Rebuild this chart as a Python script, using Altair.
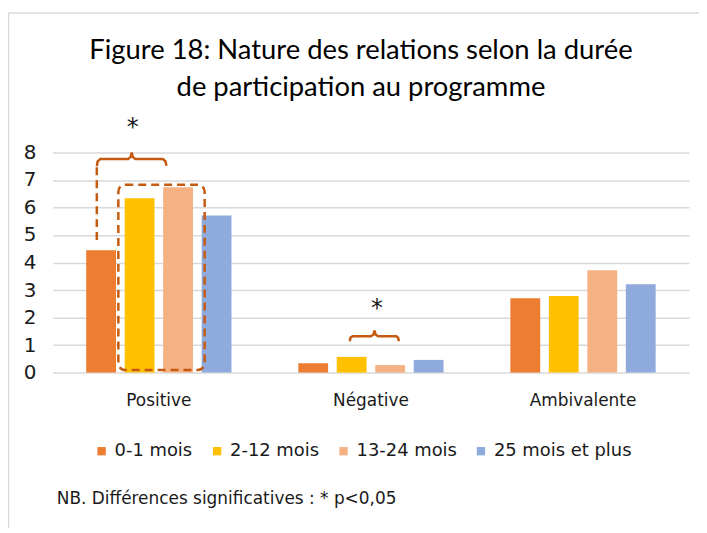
import altair as alt
import pandas as pd

# ---------------- data ----------------
categories = ["Positive", "Négative", "Ambivalente"]
series = ["0-1 mois", "2-12 mois", "13-24 mois", "25 mois et plus"]
colors = ["#ED7D31", "#FFC000", "#F4B183", "#8FAADC"]

vals_0_1 = [4.45, 0.34, 2.70]
vals_2_12 = [6.34, 0.57, 2.78]
vals_13_24 = [6.74, 0.27, 3.72]
vals_25_plus = [5.71, 0.46, 3.21]

title_lines = ["Figure 18: Nature des relations selon la durée",
               "de participation au programme"]
note_text = "NB. Différences significatives : * p<0,05"

# annotation geometry, in data units (x: category units 0..3, y: value units)
brace1_x = [0.2075, 0.2115, 0.224, 0.355, 0.367, 0.372, 0.377, 0.389, 0.519, 0.531, 0.536]
brace1_y = [7.50, 7.68, 7.76, 7.76, 7.84, 8.00, 7.84, 7.76, 7.76, 7.68, 7.52]
brace2_x = [1.400, 1.404, 1.414, 1.500, 1.512, 1.517, 1.522, 1.534, 1.620, 1.628, 1.632]
brace2_y = [1.14, 1.27, 1.32, 1.32, 1.38, 1.53, 1.38, 1.32, 1.32, 1.27, 1.14]
stem_x = [0.2075]
stem_y = [7.46]
stem_y2 = [4.69]
box_x = [0.309]
box_x2 = [0.716]
box_y = [0.09]
box_y2 = [6.83]
star_x = [0.377, 1.529]
star_y = [8.90, 2.31]

# ---------------- tables ----------------
rows = []
for s, vals in zip(series, [vals_0_1, vals_2_12, vals_13_24, vals_25_plus]):
    for c, v in zip(categories, vals):
        rows.append({"cat": c, "series": s, "value": v})
df = pd.DataFrame(rows)

brace_rows = []
for bid, (bx, by) in enumerate([(brace1_x, brace1_y), (brace2_x, brace2_y)]):
    for i, (xx, yy) in enumerate(zip(bx, by)):
        brace_rows.append({"id": bid, "i": i, "x": xx, "y": yy})
df_brace = pd.DataFrame(brace_rows)
df_stem = pd.DataFrame({"x": stem_x, "y": stem_y, "y2": stem_y2})
df_box = pd.DataFrame({"x": box_x, "x2": box_x2, "y": box_y, "y2": box_y2})
df_star = pd.DataFrame({"x": star_x, "y": star_y, "t": ["*"] * len(star_x)})

W, H = 639, 221
FONT = "DejaVu Sans"
ANN = "#C55A11"

yscale = alt.Scale(domain=[0, 8], nice=False, zero=True)
yaxis = alt.Axis(values=list(range(0, 9)), title=None, grid=True, gridColor="#D9D9D9",
                 gridWidth=1.5, ticks=False, domain=False, labelFontSize=20,
                 labelFont=FONT, labelColor="#1a1a1a", labelPadding=17)
xq = alt.Scale(domain=[0, 3], nice=False, zero=False)

bars = alt.Chart(df).mark_bar().encode(
    x=alt.X("cat:N", sort=categories,
            scale=alt.Scale(paddingInner=0.315, paddingOuter=0.1575),
            axis=alt.Axis(title=None, ticks=False, domain=False, labelAngle=0,
                          labelFontSize=17, labelFont=FONT, labelColor="#1a1a1a",
                          labelPadding=20, grid=False)),
    xOffset=alt.XOffset("series:N", sort=series,
                        scale=alt.Scale(paddingInner=0.225, paddingOuter=0)),
    y=alt.Y("value:Q", scale=yscale, axis=yaxis),
    color=alt.Color("series:N", sort=series,
                    scale=alt.Scale(domain=series, range=colors),
                    legend=alt.Legend(orient="none", legendX=40, legendY=291,
                                      direction="horizontal", title=None,
                                      labelFontSize=18, labelFont=FONT,
                                      labelColor="#1a1a1a", symbolType="square",
                                      symbolSize=70, symbolStrokeWidth=0,
                                      columnPadding=15, labelOffset=4, padding=0)),
)

braces = alt.Chart(df_brace).mark_line(color=ANN, strokeWidth=2.5, clip=False).encode(
    x=alt.X("x:Q", scale=xq, axis=None),
    y=alt.Y("y:Q", scale=yscale, axis=yaxis),
    detail="id:N",
    order="i:Q",
)

stem = alt.Chart(df_stem).mark_rule(color=ANN, strokeWidth=2.5, strokeDash=[8, 5]).encode(
    x=alt.X("x:Q", scale=xq, axis=None),
    y=alt.Y("y:Q", scale=yscale, axis=yaxis),
    y2="y2:Q",
)

box = alt.Chart(df_box).mark_rect(fill="transparent", stroke=ANN, strokeWidth=2.5,
                                  strokeDash=[8, 5], cornerRadius=7).encode(
    x=alt.X("x:Q", scale=xq, axis=None),
    x2="x2:Q",
    y=alt.Y("y:Q", scale=yscale, axis=yaxis),
    y2="y2:Q",
)

stars = alt.Chart(df_star).mark_text(fontSize=24, font=FONT, color="#1a1a1a",
                                     baseline="middle", align="center").encode(
    x=alt.X("x:Q", scale=xq, axis=None),
    y=alt.Y("y:Q", scale=yscale, axis=yaxis),
    text="t:N",
)

note = alt.Chart(pd.DataFrame({"t": [note_text]})).mark_text(
    fontSize=17, font=FONT, color="#1a1a1a", align="left", baseline="middle"
).encode(text="t:N", x=alt.value(4), y=alt.value(348))

border_df = pd.DataFrame({"k": [0]})
border_top = alt.Chart(border_df).mark_rule(color="#D9D9D9", strokeWidth=1.5).encode(
    x=alt.value(-44.5), x2=alt.value(W + 10), y=alt.value(-140))
border_left = alt.Chart(border_df).mark_rule(color="#D9D9D9", strokeWidth=1.5).encode(
    x=alt.value(-44.5), y=alt.value(-140), y2=alt.value(H + 160))

chart = alt.layer(bars, box, stem, braces, stars, note, border_top, border_left).resolve_scale(
    x="independent"
).properties(
    width=W, height=H,
    title=alt.TitleParams(text=title_lines, font="Lato", fontSize=27.5, fontWeight="normal",
                          color="#000000", anchor="middle", dx=-10, offset=-90,
                          lineHeight=38),
    autosize=alt.AutoSizeParams(type="none"),
    padding={"left": 45, "top": 144, "right": 10, "bottom": 155},
).configure_view(stroke=None)

chart.save("out.html", embed_options={"renderer": "svg", "actions": False})
